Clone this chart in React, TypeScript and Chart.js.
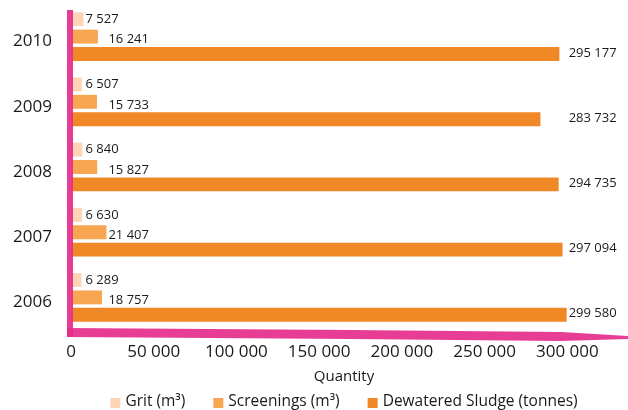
import React, { useEffect, useRef } from "react";
import { Chart, registerables } from "chart.js";

Chart.register(...registerables);

const years = ["2010", "2009", "2008", "2007", "2006"];
const grit = [7527, 6507, 6840, 6630, 6289];
const screenings = [16241, 15733, 15827, 21407, 18757];
const sludge = [295177, 283732, 294735, 297094, 299580];
const seriesNames = ["Grit (m³)", "Screenings (m³)", "Dewatered Sludge (tonnes)"];
const xTicks = [0, 50000, 100000, 150000, 200000, 250000, 300000];

const COLORS = ["#FDD4B4", "#F8A652", "#F18826"];
const PINK = "rgba(229, 45, 140, 0.92)";
const FONT = "'Open Sans', 'Noto Sans', sans-serif";
const TEXT = "#1a1a1a";

const fmt = (n: number) => String(n).replace(/\B(?=(\d{3})+(?!\d))/g, " ");

const pinkAxes = {
  id: "pinkAxes",
  afterDatasetsDraw(chart: any) {
    const { ctx, chartArea } = chart;
    const L = chartArea.left;
    const B = chartArea.bottom;
    const T = chartArea.top;
    const W = chart.width;
    ctx.save();
    ctx.fillStyle = PINK;
    ctx.fillRect(L - 4, T + 6, 6, B - T + 1);
    ctx.beginPath();
    ctx.moveTo(L - 4, B - 2);
    ctx.lineTo(L + 280, B);
    ctx.lineTo(L + 490, B + 2);
    ctx.lineTo(W, B + 6);
    ctx.lineTo(W, B + 9);
    ctx.lineTo(L + 490, B + 11);
    ctx.lineTo(L + 280, B + 9);
    ctx.lineTo(L - 4, B + 7);
    ctx.closePath();
    ctx.fill();
    ctx.restore();
  },
};

const valueLabels = {
  id: "valueLabels",
  afterDatasetsDraw(chart: any) {
    const { ctx } = chart;
    const xScale = chart.scales.x;
    const yOffsets = [0, 3, -1];
    ctx.save();
    ctx.font = `13px ${FONT}`;
    ctx.fillStyle = TEXT;
    ctx.textAlign = "left";
    ctx.textBaseline = "middle";
    chart.data.datasets.forEach((ds: any, i: number) => {
      const meta = chart.getDatasetMeta(i);
      const maxVal = Math.max(...ds.data);
      const x = xScale.getPixelForValue(maxVal) + 2;
      meta.data.forEach((el: any, j: number) => {
        ctx.fillText(fmt(ds.data[j]), x, el.y + yOffsets[i]);
      });
    });
    ctx.restore();
  },
};

const bottomLegend = {
  id: "bottomLegend",
  afterDraw(chart: any) {
    const { ctx, chartArea } = chart;
    const box = 10;
    const gapText = 5;
    const gapItem = 28;
    ctx.save();
    ctx.font = `15.5px ${FONT}`;
    ctx.textBaseline = "middle";
    ctx.textAlign = "left";
    const items = chart.data.datasets.map((ds: any) => ({
      text: ds.label,
      color: ds.backgroundColor,
      w: box + gapText + ctx.measureText(ds.label).width,
    }));
    const total =
      items.reduce((s: number, it: any) => s + it.w, 0) + gapItem * (items.length - 1);
    let x = (chartArea.left + chartArea.right) / 2 - total / 2;
    const y = chart.height - 8;
    items.forEach((it: any) => {
      ctx.fillStyle = it.color;
      ctx.fillRect(x, y - box / 2 + 1, box, box);
      ctx.fillStyle = TEXT;
      ctx.fillText(it.text, x + box + gapText, y);
      x += it.w + gapItem;
    });
    ctx.restore();
  },
};

export default function App() {
  const ref = useRef<HTMLCanvasElement>(null);
  useEffect(() => {
    document.body.style.margin = "0";
    if (!ref.current) return;
    Chart.defaults.font.family = FONT;
    const chart = new Chart(ref.current, {
      type: "bar",
      data: {
        labels: years,
        datasets: [grit, screenings, sludge].map((d, i) => ({
          label: seriesNames[i],
          data: d,
          backgroundColor: COLORS[i],
          borderWidth: 0,
          categoryPercentage: 0.8,
          barPercentage: 0.8,
        })),
      },
      options: {
        indexAxis: "y",
        responsive: false,
        animation: false,
        layout: { padding: { top: 4, right: 11, left: 0, bottom: 0 } },
        plugins: {
          legend: { display: false },
          tooltip: { enabled: false },
        },
        scales: {
          y: {
            grid: { display: false, drawTicks: false },
            border: { display: false },
            ticks: {
              color: TEXT,
              font: { size: 17, family: FONT },
              padding: 19,
              labelOffset: 5,
            },
            afterFit: (s: any) => {
              s.width = 71;
              s.paddingTop = 0;
              s.paddingBottom = 0;
            },
          },
          x: {
            min: 0,
            max: 330000,
            grid: { display: false, drawTicks: false },
            border: { display: false },
            ticks: {
              stepSize: 50000,
              includeBounds: false,
              color: TEXT,
              font: { size: 17, family: FONT },
              padding: 12,
              maxRotation: 0,
              callback: (v: any) => fmt(Number(v)),
            },
            afterBuildTicks: (s: any) => {
              s.ticks = xTicks.map((v) => ({ value: v }));
            },
            title: {
              display: true,
              text: "Quantity",
              color: TEXT,
              font: { size: 15, family: FONT },
              padding: { top: 4, bottom: 24 },
            },
            afterFit: (s: any) => {
              s.height = 80;
              s.paddingLeft = 0;
              s.paddingRight = 0;
            },
          },
        },
      },
      plugins: [pinkAxes, valueLabels, bottomLegend],
    } as any);
    return () => chart.destroy();
  }, []);
  return (
    <div style={{ width: 628, height: 410 }}>
      <canvas ref={ref} width={628} height={410} />
    </div>
  );
}
